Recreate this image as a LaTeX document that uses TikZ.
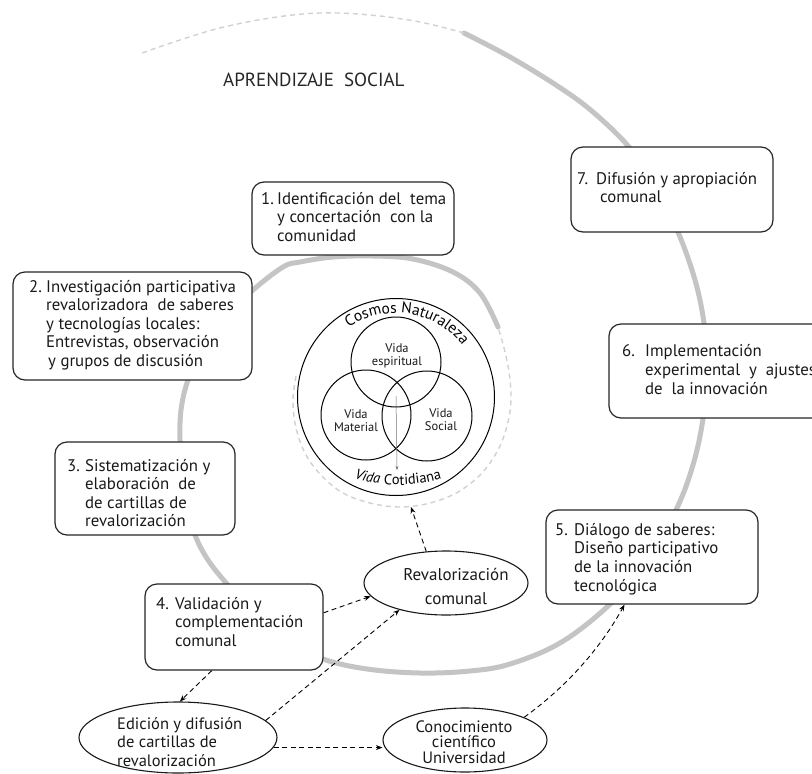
\documentclass[tikz,border=0pt]{standalone}
\usepackage{fontspec}
\setmainfont{PT Sans}
\usetikzlibrary{arrows.meta,decorations.text,shapes.geometric}
\newcommand\bxfont{\fontsize{16.8}{18.6}\selectfont}
\newcommand\elfont{\fontsize{16.5}{18.6}\selectfont}
\newcommand\vnfont{\fontsize{12.5}{13.5}\selectfont}
\begin{document}
\begin{tikzpicture}[x=1pt,y=-1pt,
  box/.style={draw=black!85, line width=1.2pt, rounded corners=12pt, fill=white, inner sep=0pt},
  txt/.style={inner sep=0pt, align=left, font=\bxfont, text=black!90},
  ell/.style={ellipse, draw=black!90, line width=1.1pt, fill=white, inner sep=0pt},
  arr/.style={draw=black, line width=0.9pt, dash pattern=on 5pt off 3.5pt, -{Stealth[length=6.5pt,width=5pt]}},
  thinarr/.style={draw=black!55, line width=0.5pt, -{Stealth[length=4pt,width=3pt]}},
  spiralthick/.style={draw=black!23, line width=5pt, line cap=round},
  spiraldash/.style={draw=black!18, line width=1.4pt, dash pattern=on 5pt off 4pt},
  venn/.style={circle, draw=black, line width=1pt, inner sep=0pt, minimum size=90pt},
  vtxt/.style={inner sep=0pt, align=center, font=\vnfont, text=black!90}
]
\clip (0,0) rectangle (812,774);
\fill[white] (0,0) rectangle (812,774);

% spiral
\draw[spiraldash] plot[smooth, tension=0.6] coordinates {(296,376) (293,400) (296,428) (306,455) (322,476) (343,493) (370,503) (400,507) (430,503) (458,492) (482,473) (499,448) (508,422) (511,398) (509,372) (504,348) (498,327)};
\draw[spiralthick] plot[smooth, tension=0.6] coordinates {(498,327) (480,293) (453,272) (413,259) (373,256) (333,257) (300,262) (283,267) (253,290) (225,318) (203,348) (188,380) (181,410) (180,440) (182,470) (187,505) (195,535) (208,560) (227,584) (255,615) (288,641) (323,659) (367,669) (420,673) (470,671) (510,664) (560,643) (607,607) (645,565) (676,510) (693,465) (703,419) (708,370) (704,323) (695,280) (678,232) (655,185) (629,147) (593,112) (559,87) (510,57) (464,33)};
\draw[spiraldash] plot[smooth, tension=0.6] coordinates {(464,33) (420,22) (370,15) (320,13) (270,18) (220,28) (180,40) (142,53)};

% title
\node[anchor=base west, inner sep=0pt, font=\fontsize{19}{21}\selectfont, text=black!85] (title) at (223,86) {APRENDIZAJE\ \ SOCIAL};

% boxes
\node[box, minimum width=202pt, minimum height=73pt] (b1) at (353,218.5) {};
\node[box, minimum width=239pt, minimum height=108pt] (b2) at (132.5,326) {};
\node[box, minimum width=180pt, minimum height=93pt] (b3) at (145,488.5) {};
\node[box, minimum width=178pt, minimum height=86pt] (b4) at (234,627) {};
\node[box, minimum width=212pt, minimum height=94pt] (b5) at (652,557) {};
\node[box, minimum width=231pt, minimum height=94pt] (b6) at (724.5,371) {};
\node[box, minimum width=202pt, minimum height=85pt] (b7) at (672,189.5) {};

% texts (base anchor = baseline of the last line)
\node[txt, anchor=base west] (t1) at (261,241.2) {\makebox[16pt][l]{1.}Identificación del\ \ tema\\\hspace*{16pt}y concertación\ \ con la\\\hspace*{16pt}comunidad};
\node[txt, anchor=base west] (t2) at (29,366.4) {\makebox[17pt][l]{2.}Investigación participativa\\\hspace*{17pt}revalorizadora\ \ de saberes\\\hspace*{17pt}y tecnologías locales:\\\hspace*{17pt}Entrevistas, observación\\\hspace*{19pt}y grupos de discusión};
\node[txt, anchor=base west] (t3) at (67,526.8) {\makebox[18pt][l]{3.}Sistematización y\\\hspace*{18pt}elaboración\ \ de\\\hspace*{18pt}de cartillas de\\\hspace*{18pt}revalorización};
\node[txt, anchor=base west] (t4) at (156,646.2) {\makebox[19pt][l]{4.}Validación y\\\hspace*{19pt}complementación\\\hspace*{19pt}comunal};
\node[txt, anchor=base west] (t5) at (555,591) {\makebox[19pt][l]{5.}Diálogo de saberes:\\\hspace*{19pt}Diseño participativo\\\hspace*{19pt}de la innovación\\\hspace*{19pt}tecnológica};
\node[txt, anchor=base west] (t6) at (622,394) {\makebox[23pt][l]{6.}Implementación\\\hspace*{23pt}experimental\ \ y\ \ ajustes\\\hspace*{23pt}de\ \ la innovación};
\node[txt, anchor=base west] (t7) at (577,202.6) {\makebox[19pt][l]{7.}Difusión y apropiación\\\hspace*{23pt}comunal};

% cosmos
\node[circle, draw=black, line width=1pt, inner sep=0pt, minimum size=197pt] (cos) at (396,397) {};
\node[venn] (vs) at (396,362) {};
\node[venn] (vm) at (366,415) {};
\node[venn] (vo) at (427,416) {};
\node[vtxt, anchor=base] (vst) at (397,365.5) {Vida\\espiritual};
\node[vtxt, anchor=base] (vmt) at (356,431.5) {Vida\\Material};
\node[vtxt, anchor=base] (vot) at (441,430.5) {Vida\\Social};
\coordinate (vc) at (396,396);
\coordinate (vend) at (397,470);
\draw[thinarr] (vc) -- (vend);
\path[decorate, decoration={text along path, text align=center,
  text={|\fontsize{15.5}{16}\selectfont|Cosmos Naturaleza}}]
  (396,397) ++(-132:84) arc[start angle=-132, end angle=-30, radius=84];
\path[decorate, decoration={text along path, text align=center,
  text={|\fontsize{14.5}{16}\selectfont\itshape|Vida |\fontsize{14.5}{16}\selectfont\upshape|Cotidiana}}]
  (398,335) ++(120:150) arc[start angle=120, end angle=60, radius=150];

% ellipses
\node[ell, minimum width=164pt, minimum height=64pt] (eR) at (446,583) {};
\node[ell, minimum width=198pt, minimum height=71pt] (eE) at (178,737.5) {};
\node[ell, minimum width=164pt, minimum height=64pt] (eC) at (465,740) {};
\node[inner sep=0pt, align=center, font=\fontsize{17}{24}\selectfont, text=black!90, anchor=base] (tR) at (456,604) {Revalorización\\comunal};
\node[inner sep=0pt, align=left, font=\elfont, text=black!90, anchor=base west] (tE) at (117,766.2) {Edición y difusión\\de cartillas de\\revalorización};
\node[inner sep=0pt, align=center, font=\fontsize{16.5}{15.5}\selectfont, text=black!90, anchor=base] (tC) at (464,763) {Conocimiento\\científico\\Universidad};

% arrows
\coordinate (cdash) at (411,507);
\draw[arr] (b4.9) -- (eR.190);
\draw[arr] (b4.243) -- (eE.87);
\draw[arr] (eE.11) -- (eR.210);
\draw[arr] (eE.354) -- (eE.354 -| eC.west);
\draw[arr] (eC.21) .. controls (566,687) and (600,649) .. (b5.240);
\draw[arr] (eR.122) -- (cdash);
\end{tikzpicture}
\end{document}
